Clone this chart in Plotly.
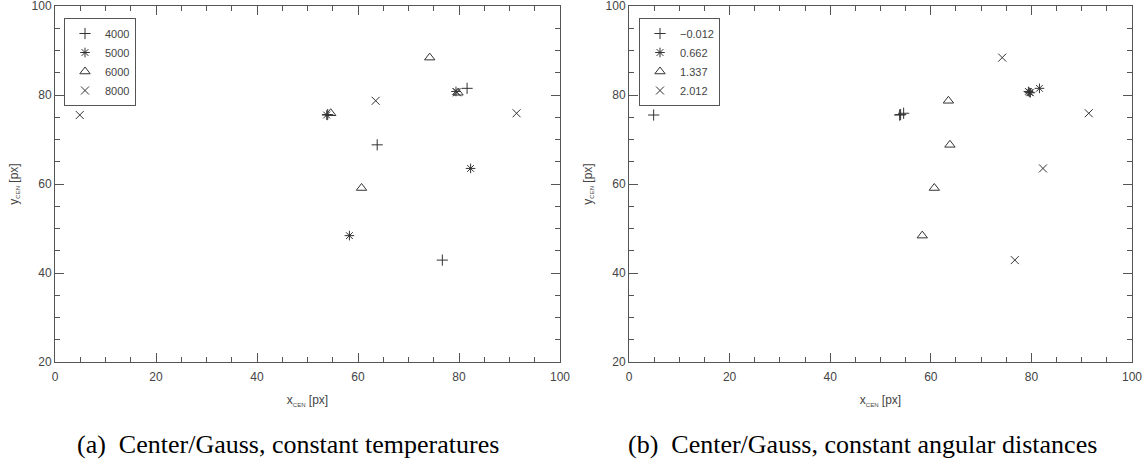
import plotly.graph_objects as go

# Centroid positions from the Gauss fit, indexed [temperature][angular distance]
temperatures = ["4000", "5000", "6000", "8000"]
angular_distances = ["\u22120.012", "0.662", "1.337", "2.012"]

x_cen = [
    [54.0, 81.6, 63.8, 76.7],   # 4000
    [53.8, 79.4, 58.3, 82.3],   # 5000
    [54.6, 79.8, 60.7, 74.2],   # 6000
    [4.9, 79.6, 63.5, 91.4],    # 8000
]
y_cen = [
    [75.6, 81.5, 68.8, 42.9],
    [75.5, 80.8, 48.4, 63.5],
    [75.9, 80.5, 59.1, 88.4],
    [75.5, 80.6, 78.7, 75.9],
]

symbols = ["cross-thin-open", "asterisk-open", "triangle-up-open", "x-thin-open"]
sizes = [8, 8, 9, 8]
ink = "#333333"
axis_col = "#555555"
tick_font = dict(family="Liberation Sans, Arial, sans-serif", size=12, color="#444444")

W, H = 1146, 468
left_dom = [55 / W, 560 / W]
right_dom = [629 / W, 1132 / W]
y_dom = [1 - 362 / H, 1 - 6 / H]

fig = go.Figure()

# (a) one series per temperature
for i, t in enumerate(temperatures):
    fig.add_trace(go.Scatter(
        x=x_cen[i], y=y_cen[i], mode="markers", name=t,
        marker=dict(symbol=symbols[i], size=sizes[i], color=ink,
                    line=dict(color=ink, width=1)),
        xaxis="x", yaxis="y", legend="legend",
    ))

# (b) one series per angular distance
for j, d in enumerate(angular_distances):
    fig.add_trace(go.Scatter(
        x=[row[j] for row in x_cen], y=[row[j] for row in y_cen],
        mode="markers", name=d,
        marker=dict(symbol=symbols[j], size=sizes[j], color=ink,
                    line=dict(color=ink, width=1)),
        xaxis="x2", yaxis="y2", legend="legend2",
    ))

title_font = dict(family="Liberation Sans, Arial, sans-serif", size=12, color="#444444")
x_title = "x<sub><span style='font-size:6px'>CEN</span></sub> [px]"
y_title = "y<sub><span style='font-size:6px'>CEN</span></sub> [px]"

minor_ticks = dict(dtick=5, ticks="inside", ticklen=5, tickcolor=axis_col,
                   tickwidth=1, showgrid=False)


def x_axis(domain, anchor):
    return dict(
        domain=domain, anchor=anchor, range=[0, 100], dtick=20, tick0=0,
        showgrid=False, zeroline=False, showline=True, linecolor=axis_col,
        linewidth=1, mirror="allticks", ticks="inside", ticklen=9,
        tickcolor=axis_col, tickwidth=1, tickfont=tick_font,
        ticklabelstandoff=4, ticklabeloverflow="allow", automargin=False,
        minor=minor_ticks,
        title=dict(text=x_title, font=title_font, standoff=12),
    )


def y_axis(anchor):
    return dict(
        domain=y_dom, anchor=anchor, range=[20, 100], dtick=20, tick0=0,
        showgrid=False, zeroline=False, showline=True, linecolor=axis_col,
        linewidth=1, mirror="allticks", ticks="inside", ticklen=9,
        tickcolor=axis_col, tickwidth=1, tickfont=tick_font,
        ticklabeloverflow="allow", automargin=False, minor=minor_ticks,
        title=dict(text=y_title, font=title_font, standoff=10),
    )


legend_style = dict(
    xanchor="left", yanchor="top", bgcolor="white",
    bordercolor=axis_col, borderwidth=1,
    font=dict(family="Liberation Sans, Arial, sans-serif", size=11, color="#444444"),
    itemwidth=30, tracegroupgap=0,
)

caption_font = dict(family="Liberation Serif, Times New Roman, serif", size=26, color="black")

fig.update_layout(
    width=W, height=H,
    margin=dict(l=0, r=0, t=0, b=0, autoexpand=False),
    paper_bgcolor="white", plot_bgcolor="white",
    showlegend=True,
    xaxis=x_axis(left_dom, "y"),
    yaxis=y_axis("x"),
    xaxis2=x_axis(right_dom, "y2"),
    yaxis2=y_axis("x2"),
    legend=dict(x=64 / W, y=1 - 18 / H, **legend_style),
    legend2=dict(x=639 / W, y=1 - 18 / H, **legend_style),
    annotations=[
        dict(text="(a)\u00a0 Center/Gauss, constant temperatures",
             x=288 / W, y=1 - 444 / H, xref="paper", yref="paper",
             xanchor="center", yanchor="middle", showarrow=False, font=caption_font),
        dict(text="(b)\u00a0 Center/Gauss, constant angular distances",
             x=862 / W, y=1 - 444 / H, xref="paper", yref="paper",
             xanchor="center", yanchor="middle", showarrow=False, font=caption_font),
    ],
)

fig.write_html("out.html")
